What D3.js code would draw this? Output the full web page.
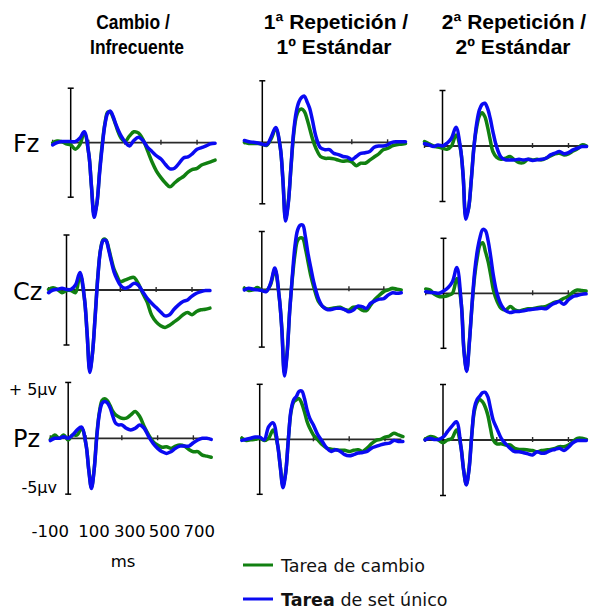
<!DOCTYPE html>
<html><head><meta charset="utf-8">
<script src="https://cdn.jsdelivr.net/npm/d3@7"></script>
<style>body{margin:0;background:#fff} svg{display:block}</style>
</head><body><svg id="c" width="594" height="612"></svg>
<script>
// ---------- data ----------
const times = [-100,-75,-50,-25,0,25,50,75,100,115,130,145,160,175,190,205,220,235,250,265,280,300,325,350,375,400,425,450,475,500,525,550,575,600,625,650,675,700,725,750,775,800];
const columns = [["Cambio /","Infrecuente"],["1ª Repetición /","1º Estándar"],["2ª Repetición /","2º Estándar"]];
const rows = ["Fz","Cz","Pz"];
const xTicks = [-100,100,300,500,700];
const xTickLabels = ["-100","100","300","500","700"];
const yTickLabels = ["+ 5µv","-5µv"];
const xUnit = "ms";
const seriesNames = ["Tarea de cambio","Tarea de set único"];

// µV values, green = Tarea de cambio, blue = Tarea de set único
const fzCambioGreen = [0.0,0.15,0.1,-0.1,-0.2,-0.6,-0.2,0.9,-1.0,-4.0,-6.6,-5.6,-2.6,-0.1,1.8,2.8,2.8,2.3,1.6,0.9,0.4,0.1,0.6,1.0,0.9,0.3,-0.7,-1.75,-2.6,-3.2,-3.7,-4.05,-3.7,-3.35,-3.1,-2.7,-2.45,-2.35,-2.05,-1.9,-1.75,-1.6];
const fzCambioBlue  = [-0.2,0.0,0.1,0.1,0.1,0.1,0.4,1.0,-1.0,-4.0,-6.85,-5.6,-2.8,-0.3,1.7,2.7,2.9,2.4,1.7,1.1,0.6,0.1,-0.3,0.2,0.5,0.2,-0.4,-0.8,-1.2,-1.5,-2.0,-2.4,-2.35,-1.9,-1.4,-1.3,-1.0,-0.6,-0.45,-0.3,-0.1,-0.05];
const fzRep1Green   = [0.0,-0.1,-0.1,-0.1,-0.15,-0.25,0.3,1.1,-0.4,-3.0,-6.2,-4.9,-2.1,0.6,2.1,2.6,2.7,2.5,1.9,1.1,0.3,-0.5,-1.15,-1.3,-1.3,-1.35,-1.45,-1.55,-1.5,-1.6,-1.9,-1.7,-1.7,-1.45,-1.2,-0.95,-0.6,-0.5,-0.3,-0.2,-0.15,-0.1];
const fzRep1Blue    = [0.15,0.05,0.0,-0.05,-0.15,-0.2,0.45,1.2,-0.35,-3.05,-6.4,-5.0,-2.0,0.85,2.5,3.3,3.65,3.75,3.3,2.75,1.8,0.45,-0.45,-0.6,-0.6,-0.9,-1.0,-1.15,-1.2,-1.4,-1.15,-0.9,-0.85,-0.75,-0.4,-0.3,-0.3,-0.2,0.0,0.05,0.05,0.05];
const fzRep2Green   = [0.4,0.2,0.0,-0.1,-0.2,-0.3,0.0,1.0,-0.3,-2.8,-6.3,-5.6,-3.0,0.0,1.7,2.7,3.0,2.65,1.75,0.55,-0.5,-1.0,-1.2,-1.1,-0.95,-1.25,-1.5,-1.5,-1.2,-1.25,-1.2,-1.25,-1.1,-0.9,-0.7,-0.65,-0.8,-0.7,-0.45,-0.25,0.1,0.0];
const fzRep2Blue    = [0.2,0.1,-0.05,0.1,0.0,0.25,0.7,1.7,-0.2,-2.75,-6.6,-5.6,-3.05,-0.05,2.05,3.25,3.75,3.85,3.4,2.5,1.3,-0.05,-1.0,-1.25,-1.25,-1.25,-1.2,-1.25,-1.2,-1.3,-1.25,-1.2,-1.1,-0.8,-0.65,-0.5,-0.7,-0.6,-0.35,-0.2,-0.05,-0.05];
const czCambioGreen = [0.05,0.2,0.05,-0.25,-0.05,-0.05,-0.25,1.4,-0.8,-4.0,-7.3,-5.7,-2.3,1.3,3.7,4.6,4.55,3.8,2.8,1.9,1.35,0.75,0.9,1.05,1.15,0.6,-0.3,-1.1,-2.3,-2.9,-3.25,-3.4,-3.2,-2.9,-2.6,-2.25,-2.05,-2.25,-1.95,-1.8,-1.75,-1.65];
const czCambioBlue  = [-0.25,0.0,0.05,0.15,0.05,0.05,0.45,1.6,-0.75,-3.95,-7.5,-5.75,-2.4,1.2,3.65,4.5,4.5,3.65,2.6,1.65,1.05,0.45,0.15,0.3,0.6,0.45,-0.15,-0.75,-1.2,-1.6,-2.0,-2.35,-2.25,-1.75,-1.35,-1.05,-0.9,-0.55,-0.3,-0.15,-0.05,-0.05];
const czRep1Green   = [0.1,-0.1,-0.05,0.15,-0.1,-0.15,0.4,1.7,-0.7,-3.4,-7.2,-5.5,-1.8,0.9,3.0,4.2,4.45,4.4,3.55,2.4,1.25,0.1,-1.05,-1.5,-1.7,-1.65,-1.6,-1.55,-1.75,-1.8,-1.55,-1.55,-1.8,-1.85,-1.35,-0.85,-0.5,-0.2,-0.05,0.1,0.0,-0.05];
const czRep1Blue    = [-0.05,0.1,0.0,-0.05,-0.1,-0.2,0.5,1.85,-0.65,-3.5,-7.5,-5.6,-1.9,1.1,3.7,5.1,5.55,5.55,4.55,3.1,1.95,0.5,-0.8,-1.5,-1.75,-1.75,-1.65,-1.65,-1.75,-1.95,-1.8,-1.45,-1.5,-1.65,-1.2,-1.0,-0.85,-0.8,-0.5,-0.3,-0.35,-0.3];
const czRep2Green   = [0.4,0.3,-0.1,-0.3,-0.3,-0.2,0.0,1.35,-1.0,-5.2,-7.0,-4.4,-1.1,1.6,3.3,4.4,4.6,3.8,2.9,1.65,0.3,-0.7,-1.4,-1.5,-1.2,-1.5,-1.6,-1.5,-1.4,-1.4,-1.3,-1.25,-1.2,-1.0,-0.8,-0.7,-0.45,-0.3,0.1,0.3,0.25,0.2];
const czRep2Blue    = [0.15,0.1,0.05,0.0,0.2,0.5,1.05,2.35,-1.0,-5.3,-7.1,-4.5,-1.0,2.0,3.9,5.1,5.8,5.7,4.8,3.3,1.6,0.0,-1.1,-1.6,-1.75,-1.65,-1.65,-1.6,-1.5,-1.45,-1.4,-1.35,-1.4,-1.1,-0.9,-0.75,-1.0,-0.6,-0.3,-0.2,-0.1,-0.05];
const pzCambioGreen = [-0.1,0.3,0.0,0.3,-0.15,0.3,0.3,0.9,-0.6,-2.8,-4.4,-2.8,0.3,2.4,3.4,3.55,3.35,2.9,2.4,2.1,1.95,1.8,1.8,2.1,2.4,1.95,1.05,0.3,-0.3,-0.6,-0.8,-0.75,-0.9,-0.7,-0.6,-0.7,-1.0,-1.2,-1.2,-1.5,-1.6,-1.7];
const pzCambioBlue  = [-0.2,0.0,0.0,0.15,0.0,0.3,0.75,1.0,-0.6,-2.85,-4.5,-2.85,0.15,2.25,3.15,3.3,3.15,2.7,1.95,1.35,1.2,1.2,0.9,0.75,0.9,1.2,0.9,0.15,-0.45,-0.9,-1.2,-1.35,-1.2,-0.9,-0.7,-0.7,-0.7,-0.4,-0.15,0.0,0.0,-0.1];
const pzRep1Green   = [0.1,-0.1,-0.05,0.0,0.1,-0.1,0.1,0.85,-0.5,-2.5,-4.2,-3.0,0.0,2.5,3.4,3.6,3.7,3.25,2.5,1.6,1.0,0.4,-0.05,-0.5,-0.8,-0.9,-0.95,-1.0,-1.0,-1.1,-1.0,-0.95,-1.1,-0.8,-0.4,-0.1,0.0,0.2,0.3,0.55,0.4,0.25];
const pzRep1Blue    = [-0.1,0.0,0.1,0.2,0.2,-0.05,1.15,1.5,-0.5,-2.5,-4.4,-3.1,-0.05,2.65,3.6,3.9,4.35,4.4,3.7,2.65,1.9,1.3,0.4,-0.2,-0.8,-1.1,-0.95,-1.1,-1.4,-1.5,-1.4,-1.25,-1.2,-1.1,-0.8,-0.65,-0.5,-0.4,-0.35,-0.1,-0.2,-0.2];
const pzRep2Green   = [0.05,0.3,0.25,0.0,-0.25,0.0,0.15,0.9,-0.6,-2.7,-4.0,-2.6,0.4,2.6,3.4,3.65,3.45,3.0,2.25,1.05,0.0,-0.35,-0.35,-0.45,-0.45,-0.75,-0.85,-0.85,-0.9,-0.95,-1.05,-0.95,-0.9,-0.85,-0.75,-0.6,-0.6,-0.45,-0.15,0.15,0.15,0.05];
const pzRep2Blue    = [0.0,0.15,0.05,0.05,0.25,0.75,1.25,1.65,-0.6,-2.7,-4.05,-2.7,0.3,2.85,3.65,3.95,4.25,4.3,3.9,2.85,1.8,1.05,0.15,-0.35,-0.75,-1.05,-1.05,-1.15,-1.25,-1.35,-1.05,-1.2,-1.15,-0.95,-0.85,-0.75,-0.95,-0.65,-0.25,-0.05,-0.05,-0.05];

const traces = [
  [[fzCambioGreen,fzCambioBlue],[fzRep1Green,fzRep1Blue],[fzRep2Green,fzRep2Blue]],
  [[czCambioGreen,czCambioBlue],[czRep1Green,czRep1Blue],[czRep2Green,czRep2Blue]],
  [[pzCambioGreen,pzCambioBlue],[pzRep1Green,pzRep1Blue],[pzRep2Green,pzRep2Blue]]
];

// ---------- layout ----------
const colors = ["#118011","#0a0af2"];
// cx: pixel at 0 ms, kx: px per ms, cy: pixel at 0 µV, ky: px per µV
const layout = [
  [{cx:70.7,kx:0.1805,cy:142.7,ky:10.9},{cx:262.3,kx:0.179,cy:142.3,ky:12.3},{cx:442.5,kx:0.180,cy:146,ky:11.1}],
  [{cx:66.5,kx:0.1793,cy:290,ky:11.0},{cx:261.8,kx:0.1743,cy:289.3,ky:11.56},{cx:443.5,kx:0.1783,cy:293.3,ky:11.0}],
  [{cx:68.2,kx:0.1788,cy:438.3,ky:11.17},{cx:259.7,kx:0.179,cy:439.3,ky:11.0},{cx:443,kx:0.1792,cy:440,ky:11.1}]
];
const headerX = [[133,137],[336,334],[514,513]];
const headerScaleX = [0.83,1,1];
const headerY = [29,54];
const rowLabelY = [152,300,447];
const tickLabelDx = [0,8,8,7,6];

const svg = d3.select("#c");
svg.append("rect").attr("width",594).attr("height",612).attr("fill","#fff");

const sansB = "'Liberation Sans', Arial, sans-serif";
const sans = "'DejaVu Sans', Verdana, sans-serif";

// headers
columns.forEach((lines,ci)=>{
  lines.forEach((t,li)=>{
    svg.append("g").attr("transform",`translate(${headerX[ci][li]},${headerY[li]}) scale(${headerScaleX[ci]},1)`)
      .append("text").attr("text-anchor","middle").attr("font-family",sansB).attr("font-weight","bold")
      .attr("font-size",21).attr("fill","#000").text(t);
  });
});
// row labels
rows.forEach((r,ri)=>{
  svg.append("text").attr("x",13).attr("y",rowLabelY[ri]).attr("font-family",sans)
    .attr("font-size",24).attr("fill","#000").text(r);
});

const line = d3.line().curve(d3.curveCatmullRom.alpha(0.5));

layout.forEach((rowL,ri)=>{
  rowL.forEach((L,ci)=>{
    const x = d3.scaleLinear().domain([-100,800]).range([L.cx-100*L.kx, L.cx+800*L.kx]);
    const y = d3.scaleLinear().domain([-5,5]).range([L.cy+5*L.ky, L.cy-5*L.ky]);
    const g = svg.append("g");
    // x axis
    g.append("line").attr("x1",x(-100)).attr("x2",x(792)).attr("y1",y(0)).attr("y2",y(0))
      .attr("stroke","#2a2a2a").attr("stroke-width",1.8);
    xTicks.forEach(t=>{
      g.append("line").attr("x1",x(t)).attr("x2",x(t)).attr("y1",y(0)-3).attr("y2",y(0)+2)
        .attr("stroke","#2a2a2a").attr("stroke-width",1.4);
    });
    // y axis
    g.append("line").attr("x1",x(0)).attr("x2",x(0)).attr("y1",y(5)).attr("y2",y(-5))
      .attr("stroke","#000").attr("stroke-width",1.5);
    [5,-5].forEach(v=>{
      g.append("line").attr("x1",x(0)-3).attr("x2",x(0)+3).attr("y1",y(v)).attr("y2",y(v))
        .attr("stroke","#000").attr("stroke-width",1.5);
    });
    // traces: green first, blue on top
    traces[ri][ci].forEach((vals,si)=>{
      g.append("path").attr("d",line(vals.map((v,i)=>[x(times[i]),y(v)])))
        .attr("fill","none").attr("stroke",colors[si]).attr("stroke-width",3.5)
        .attr("stroke-linejoin","round").attr("stroke-linecap","round");
    });
    if(ri===2 && ci===0){
      svg.append("text").attr("x",57).attr("y",y(5)+13).attr("text-anchor","end")
        .attr("font-family",sans).attr("font-size",16).text(yTickLabels[0]);
      svg.append("text").attr("x",57).attr("y",y(-5)-1).attr("text-anchor","end")
        .attr("font-family",sans).attr("font-size",16).text(yTickLabels[1]);
      xTicks.forEach((t,i)=>{
        svg.append("text").attr("x",x(t)+tickLabelDx[i]).attr("y",537).attr("text-anchor","middle")
          .attr("font-family",sans).attr("font-size",16.5).text(xTickLabels[i]);
      });
      svg.append("text").attr("x",123).attr("y",567).attr("text-anchor","middle")
        .attr("font-family",sans).attr("font-size",16.5).text(xUnit);
    }
  });
});

// legend
const legY = [565,599];
seriesNames.forEach((n,i)=>{
  svg.append("line").attr("x1",243).attr("x2",273).attr("y1",legY[i]).attr("y2",legY[i])
    .attr("stroke",colors[i]).attr("stroke-width",3);
  const t = svg.append("text").attr("x",281).attr("y",legY[i]+7).attr("font-family",sans)
    .attr("font-size",17.5).attr("fill","#111");
  if(i===1){
    const parts = n.split(" ");
    t.append("tspan").attr("font-weight","bold").text(parts[0]);
    t.append("tspan").text(" "+parts.slice(1).join(" "));
  } else t.text(n);
});
</script></body></html>
